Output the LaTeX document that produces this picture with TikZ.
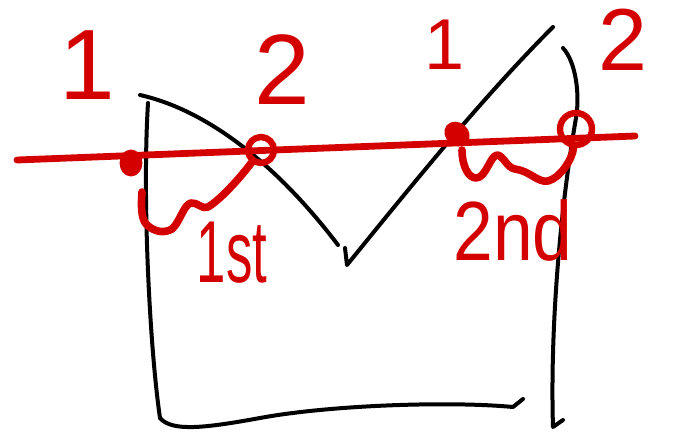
\documentclass[tikz,border=0pt]{standalone}
\usepackage{fontspec}
\setmainfont{Liberation Sans}
\usepackage{xcolor}
\definecolor{cInk}{HTML}{000000}
\definecolor{cMark}{HTML}{D40000}
\usepackage{tikz}
\usetikzlibrary{positioning}
\tikzset{
  sketch-line/.style={draw=cInk,line width=2pt,line cap=round,line join=round},
  mark-line/.style={draw=cMark,line width=3.4pt,line cap=round,line join=round},
  mark-dot/.style={ellipse,draw=cMark,line width=2.4pt,fill=cMark,
    inner sep=0pt,minimum width=9pt,minimum height=11pt},
  mark-loop/.style={circle,draw=cMark,line width=3.2pt,
    inner sep=0pt,minimum size=13pt},
  mark-label/.style={text=cMark,inner sep=0pt,font=\fontsize{50}{50}\selectfont},
}
\usetikzlibrary{shapes.geometric}

\begin{document}
\begin{tikzpicture}[x=0.5pt,y=-0.5pt]
  \useasboundingbox (0,0) rectangle (682,435);
  % the box
  \draw[sketch-line] (148,103) .. controls (142,200) and (150,350) .. (160,418);
  \draw[sketch-line] (160,418) .. controls (172,432) and (205,428) .. (260,418)
    .. controls (330,405) and (450,401) .. (513,407) -- (523,399);
  \draw[sketch-line] (563,48) .. controls (576,62) and (580,95) .. (576,118)
    .. controls (560,210) and (550,330) .. (553,427) -- (563,420);
  % the curve
  \draw[sketch-line] (140,95) .. controls (215,112) and (285,175) .. (338,245);
  \draw[sketch-line] (345,248) -- (347,265)
    .. controls (420,175) and (485,95) .. (553,27);
  % the cut line
  \coordinate (line-l) at (17,160);
  \coordinate (line-r) at (635,136);
  \draw[mark-line] (line-l) -- (line-r);
  \node[mark-dot]                (p1) at (131,163) {};
  \node[mark-loop]               (p2) at (261,150) {};
  \node[mark-dot,rotate=50]      (p3) at (457,134) {};
  \node[mark-loop,minimum size=16pt] (p4) at (576,129) {};
  % the braces
  \draw[mark-line,line width=3.8pt] (142,192) .. controls (141,205) and (141,218) .. (146,224)
    .. controls (155,233) and (165,233) .. (172,229)
    .. controls (180,222) and (184,204) .. (191,203)
    .. controls (198,202) and (202,210) .. (208,207)
    .. controls (220,200) and (240,178) .. (p2);
  \draw[mark-line,line width=3.8pt] (462,150) .. controls (462,165) and (468,178) .. (476,178)
    .. controls (486,178) and (490,156) .. (497,155)
    .. controls (503,155) and (507,168) .. (515,169)
    .. controls (530,171) and (538,183) .. (548,181)
    .. controls (560,178) and (572,160) .. (p4);
  % the labels
  \node[mark-label]                               (one-l)  at (87,65)  {1};
  \node[mark-label]                               (two-l)  at (282,70) {2};
  \node[mark-label,font=\fontsize{36}{36}\selectfont] (one-r)  at (445,45) {1};
  \node[mark-label,font=\fontsize{44}{44}\selectfont] (two-r)  at (623,40) {2};
  \node[mark-label,font=\fontsize{44}{44}\selectfont] (first)  at (232,253)
    {\scalebox{0.6}[1]{1st}};
  \node[mark-label,font=\fontsize{42}{42}\selectfont] (second) at (513,230)
    {\scalebox{0.85}[1]{2nd}};
\end{tikzpicture}
\end{document}
